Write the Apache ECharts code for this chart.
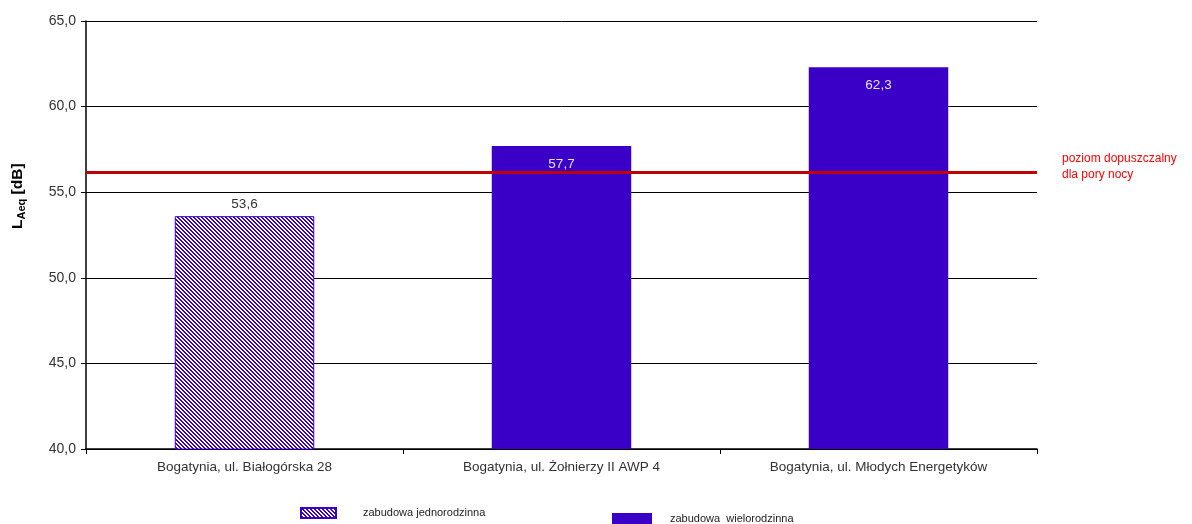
<!DOCTYPE html>
<html>
<head>
<meta charset="utf-8">
<script src="https://cdn.jsdelivr.net/npm/echarts@6/dist/echarts.min.js"></script>
<style>
  html, body { margin: 0; padding: 0; background: #fff; }
  #chart { width: 1192px; height: 524px; }
</style>
</head>
<body>
<div id="chart"></div>
<script>
// Measurement points and night-time noise levels (LAeq, dB)
const categories = [
  'Bogatynia, ul. Białogórska 28',
  'Bogatynia, ul. Żołnierzy II AWP 4',
  'Bogatynia, ul. Młodych Energetyków'
];
const singleFamily = [53.6, '-', '-'];
const multiFamily = ['-', 57.7, 62.3];
const limitNight = 56.15;
const seriesNames = ['zabudowa jednorodzinna', 'zabudowa  wielorodzinna'];
const limitLabel = 'poziom dopuszczalny\ndla pory nocy';

const BLUE = '#3a00c8';
const fmt = v => v.toFixed(1).replace('.', ',');

// diagonal hatch fill for the single-family bar
function hatch() {
  const c = document.createElement('canvas');
  c.width = 4; c.height = 4;
  const ctx = c.getContext('2d');
  ctx.fillStyle = '#ffffff';
  ctx.fillRect(0, 0, 4, 4);
  ctx.fillStyle = BLUE;
  for (let y = 0; y < 4; y++) {
    for (let x = 0; x < 4; x++) {
      if (((x - y) % 4 + 4) % 4 < 2) ctx.fillRect(x, y, 1, 1);
    }
  }
  return c;
}
const hatchPattern = { image: hatch(), repeat: 'repeat' };

const chart = echarts.init(document.getElementById('chart'));
const font = "'Liberation Sans', Arial, sans-serif";

chart.setOption({
  animation: false,
  textStyle: { fontFamily: font },
  grid: { left: 86, right: 155, top: 21, bottom: 75, containLabel: false },
  legend: [
    {
      data: [seriesNames[0]],
      left: 300, top: 507, padding: 0,
      itemWidth: 35, itemHeight: 10,
      textStyle: { fontSize: 11, color: '#222', padding: [0, 0, 0, 22] },
      icon: 'rect'
    },
    {
      data: [seriesNames[1]],
      left: 612, top: 513, padding: 0,
      itemWidth: 40, itemHeight: 12,
      textStyle: { fontSize: 11, color: '#222', padding: [6, 0, 0, 13] },
      icon: 'rect'
    }
  ],
  xAxis: {
    type: 'category',
    data: categories,
    axisLine: { lineStyle: { color: '#000', width: 1.5 } },
    axisTick: { show: true, length: 5, lineStyle: { color: '#000' } },
    axisLabel: { color: '#333', fontSize: 13.5, margin: 11 }
  },
  yAxis: {
    type: 'value',
    min: 40, max: 65, interval: 5,
    axisLine: { show: true, lineStyle: { color: '#000', width: 1.5 } },
    axisTick: { show: true, length: 5, lineStyle: { color: '#000' } },
    axisLabel: { color: '#333', fontSize: 14, margin: 10, formatter: fmt },
    splitLine: { lineStyle: { color: '#000', width: 1 } }
  },
  graphic: [
    {
      type: 'text',
      x: 18, y: 229,
      rotation: Math.PI / 2,
      style: {
        text: '{a|L}{b|Aeq}{a| [dB]}',
        rich: {
          a: { fontSize: 15.5, fontWeight: 'bold', fill: '#000', fontFamily: font },
          b: { fontSize: 11, fontWeight: 'bold', fill: '#000', fontFamily: font, padding: [8, 0, 0, 0] }
        },
        textVerticalAlign: 'middle'
      }
    }
  ],
  series: [
    {
      name: seriesNames[0],
      type: 'bar',
      stack: 'lvl',
      barWidth: '44%',
      data: singleFamily,
      itemStyle: { color: hatchPattern, borderColor: BLUE, borderWidth: 1 },
      label: {
        show: true, position: 'top', distance: 5,
        color: '#333', fontSize: 13.5,
        formatter: p => fmt(p.value)
      },
      markLine: {
        silent: true,
        symbol: 'none',
        data: [{ yAxis: limitNight }],
        lineStyle: { color: '#c00000', width: 3, type: 'solid' },
        label: {
          show: true, position: 'end', distance: 25,
          formatter: limitLabel,
          color: '#ff0000', fontSize: 12, lineHeight: 16, align: 'left',
          offset: [0, -6]
        }
      }
    },
    {
      name: seriesNames[1],
      type: 'bar',
      stack: 'lvl',
      barWidth: '44%',
      data: multiFamily,
      itemStyle: { color: BLUE },
      label: {
        show: true, position: 'insideTop', distance: 11,
        color: '#e6e2ff', fontSize: 13.5,
        formatter: p => fmt(p.value)
      }
    }
  ]
});
</script>
</body>
</html>
